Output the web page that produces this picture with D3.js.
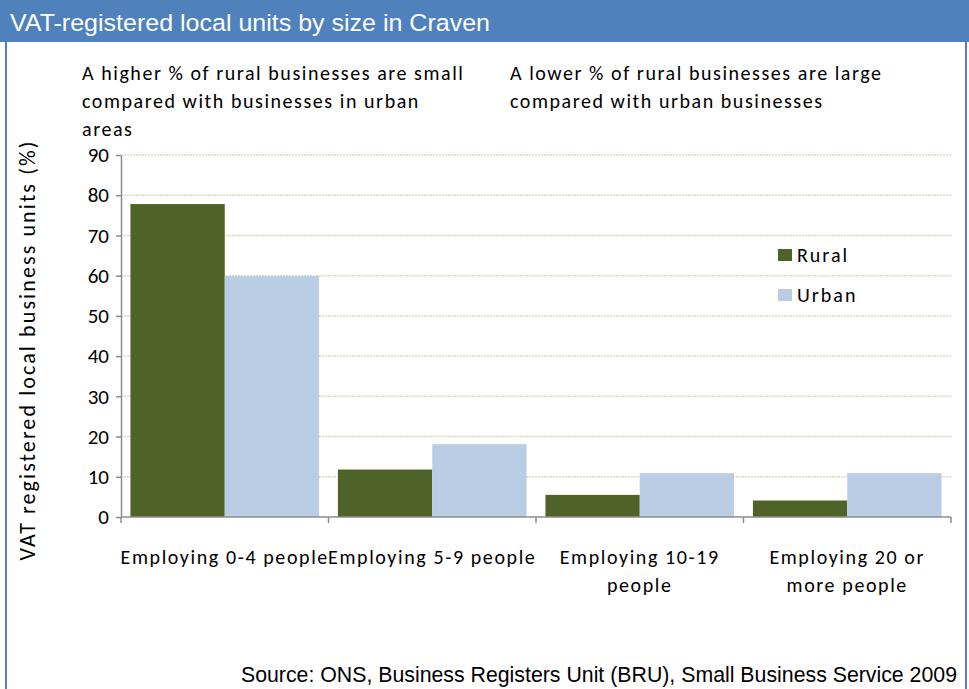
<!DOCTYPE html>
<html><head><meta charset="utf-8">
<script src="https://cdn.jsdelivr.net/npm/d3@7"></script>
<style>body{margin:0;background:#fff}svg{display:block}</style>
</head><body>
<script>
const title = "VAT-registered local units by size in Craven";
const categories = [["Employing 0-4 people"],["Employing 5-9 people"],["Employing 10-19","people"],["Employing 20 or","more people"]];
const seriesNames = ["Rural","Urban"];
const rural = [77.8, 11.8, 5.5, 4.1];
const urban = [59.9, 18.1, 10.9, 10.9];
const yTicks = [0,10,20,30,40,50,60,70,80,90];
const notes = [["A higher % of rural businesses are small","compared with businesses in urban","areas"],["A lower % of rural businesses are large","compared with urban businesses"]];
const source = "Source: ONS, Business Registers Unit (BRU), Small Business Service 2009";
const colors = ["#4F6228","#B9CDE5"];

const W=969,H=689;
const svg=d3.select("body").append("svg").attr("width",W).attr("height",H);
const font="Carlito, Lato, 'Noto Sans', sans-serif";
const arial="'Liberation Sans', Arial, sans-serif";

// frame
svg.append("rect").attr("x",0).attr("y",0).attr("width",W).attr("height",42).attr("fill","#4F81BD");
svg.append("rect").attr("x",5).attr("y",0).attr("width",2).attr("height",H).attr("fill","#4F81BD");
svg.append("rect").attr("x",965).attr("y",0).attr("width",2).attr("height",H).attr("fill","#4F81BD");
svg.append("text").attr("x",10).attr("y",31).attr("fill","#fff")
  .attr("font-family",arial).attr("font-size",24.5).attr("textLength",480).attr("lengthAdjust","spacingAndGlyphs").text(title);

const m={l:121,r:951,t:155,b:517};
const x0=d3.scaleBand().domain(d3.range(categories.length)).range([m.l,m.r]);
const y=d3.scaleLinear().domain([0,90]).range([m.b,m.t]);

// gridlines
svg.append("g").selectAll("line").data(yTicks.filter(d=>d>0)).join("line")
  .attr("x1",m.l).attr("x2",m.r).attr("y1",d=>y(d)).attr("y2",d=>y(d))
  .attr("stroke","#DDD8B8").attr("stroke-width",1.5).attr("stroke-dasharray","2,1");

// bars
const xs=d3.scaleBand().domain([0,1]).range([0,x0.bandwidth()]).paddingOuter(0.1);
const data=[rural,urban];
data.forEach((s,si)=>{
  svg.append("g").selectAll("rect").data(s).join("rect")
    .attr("x",(d,i)=>x0(i)+xs(si)).attr("width",xs.bandwidth())
    .attr("y",d=>y(d)).attr("height",d=>y(0)-y(d)).attr("fill",colors[si]);
});

// axes
const ya=svg.append("g").attr("transform",`translate(${m.l},0)`)
  .call(d3.axisLeft(y).tickValues(yTicks).tickSize(5).tickSizeOuter(0).tickFormat(d3.format("d")));
ya.select(".domain").attr("stroke","#8c8c8c").attr("stroke-width",1.5);
ya.selectAll(".tick line").attr("stroke","#8c8c8c").attr("stroke-width",1.5);
ya.selectAll("text").attr("font-family",font).attr("font-size",21).attr("fill","#000").attr("dx","-4");

const xa=svg.append("g").attr("transform",`translate(0,${m.b})`);
xa.append("line").attr("x1",m.l).attr("x2",m.r).attr("stroke","#8c8c8c").attr("stroke-width",1.5);
xa.selectAll("line.t").data(d3.range(categories.length+1)).join("line").attr("class","t")
  .attr("x1",i=>i<categories.length?x0(i):m.r).attr("x2",i=>i<categories.length?x0(i):m.r)
  .attr("y1",0).attr("y2",6).attr("stroke","#8c8c8c").attr("stroke-width",1.5);
categories.forEach((lines,i)=>{
  const t=svg.append("text").attr("text-anchor","middle").attr("font-family",font).attr("font-size",20)
    .attr("letter-spacing",1.6).attr("fill","#000");
  lines.forEach((ln,j)=>t.append("tspan").attr("x",x0(i)+x0.bandwidth()/2).attr("y",564+j*28).text(ln));
});

// y label
svg.append("text").attr("transform","translate(35,350) rotate(-90)").attr("text-anchor","middle")
  .attr("font-family",font).attr("font-size",22).attr("letter-spacing",2.1).attr("fill","#000").text("VAT registered local business units (%)");

// notes
[[82,notes[0]],[510,notes[1]]].forEach(([nx,lines])=>{
  const t=svg.append("text").attr("font-family",font).attr("font-size",20).attr("letter-spacing",1.55).attr("fill","#000");
  lines.forEach((ln,j)=>t.append("tspan").attr("x",nx).attr("y",80+j*28).text(ln));
});

// legend
seriesNames.forEach((n,i)=>{
  svg.append("rect").attr("x",778).attr("y",249+i*40).attr("width",14).attr("height",12).attr("fill",colors[i]);
  svg.append("text").attr("x",797).attr("y",262+i*40).attr("font-family",font).attr("font-size",20)
    .attr("letter-spacing",2).attr("fill","#000").text(n);
});

svg.append("text").attr("x",957).attr("y",682).attr("text-anchor","end")
  .attr("font-family",arial).attr("font-size",21.3).attr("fill","#000").text(source);
</script>
</body></html>
